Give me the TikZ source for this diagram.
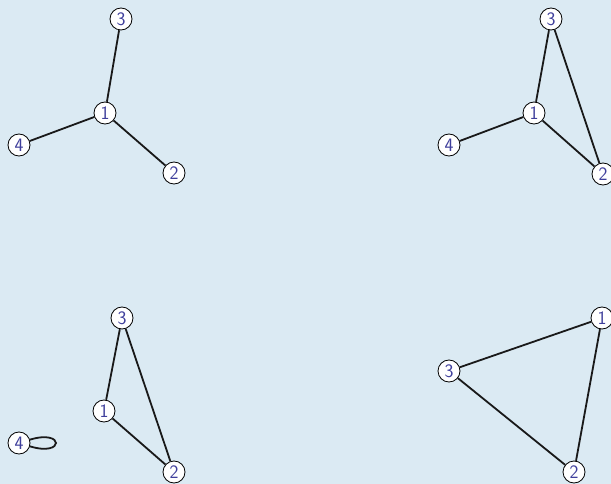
\documentclass[tikz,border=0pt]{standalone}
\usepackage{tikz}
\usetikzlibrary{positioning}
\definecolor{bgblue}{HTML}{DBEAF3}
\definecolor{numblue}{HTML}{3F3F9C}
\tikzset{
  vertex/.style={draw, circle, fill=white, line width=0.8pt, minimum size=22pt, inner sep=0pt, text=numblue, font=\sffamily\fontsize{19}{19}\selectfont},
  link/.style={line width=1.8pt, black!90}
}
\begin{document}
\begin{tikzpicture}[x=1pt, y=-1pt]
      \fill[bgblue] (0,0) rectangle (611,484);
      \useasboundingbox (0,0) rectangle (611,484);
      % top left
      \node[vertex] (a1) at (105,113) {1};
      \node[vertex] (a2) at (174,173) {2};
      \node[vertex] (a3) at (121,19) {3};
      \node[vertex] (a4) at (19,145) {4};
      \draw[link] (a1) -- (a3);
      \draw[link] (a1) -- (a4);
      \draw[link] (a1) -- (a2);
      % top right
      \node[vertex] (b1) at (534,113) {1};
      \node[vertex] (b2) at (603,174) {2};
      \node[vertex] (b3) at (551,19) {3};
      \node[vertex] (b4) at (449,145) {4};
      \draw[link] (b1) -- (b3);
      \draw[link] (b1) -- (b4);
      \draw[link] (b1) -- (b2);
      \draw[link] (b3) -- (b2);
      % bottom left
      \node[vertex] (c1) at (104,411) {1};
      \node[vertex] (c2) at (174,472) {2};
      \node[vertex] (c3) at (122,318) {3};
      \node[vertex] (c4) at (19,443) {4};
      \draw[link] (c1) -- (c3);
      \draw[link] (c1) -- (c2);
      \draw[link] (c3) -- (c2);
      \draw[link] (c4) to[out=17, in=-17, looseness=14] (c4);
      % bottom right
      \node[vertex] (d1) at (602,318) {1};
      \node[vertex] (d2) at (574,472) {2};
      \node[vertex] (d3) at (449,371) {3};
      \draw[link] (d3) -- (d1);
      \draw[link] (d1) -- (d2);
      \draw[link] (d3) -- (d2);
\end{tikzpicture}
\end{document}
